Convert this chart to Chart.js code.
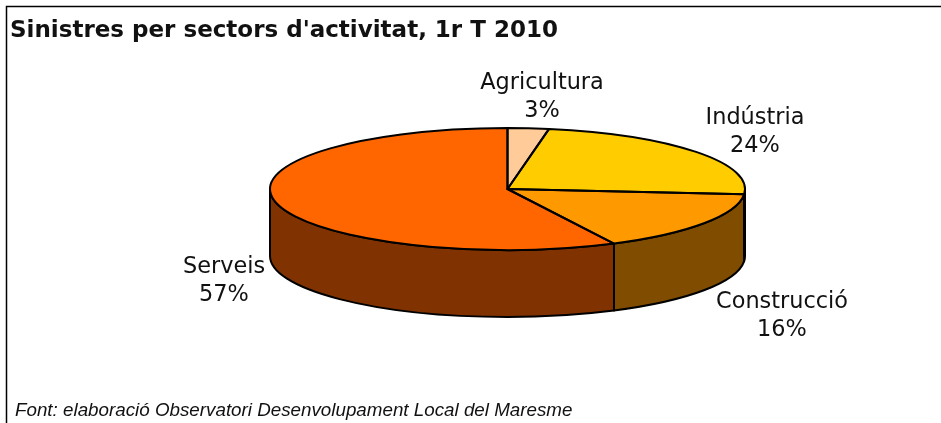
<!DOCTYPE html>
<html>
<head>
<meta charset="utf-8">
<title>Sinistres per sectors d'activitat</title>
<script src="https://cdn.jsdelivr.net/npm/chart.js@4"></script>
<style>
  html, body { margin: 0; padding: 0; background: #fff; overflow: hidden; }
  canvas { display: block; }
</style>
</head>
<body>
<canvas id="myChart" width="941" height="423"></canvas>
<script>
'use strict';

// data
let sectors = ['Agricultura', 'Indústria', 'Construcció', 'Serveis'];
let shares = [2.8, 23.6, 16.2, 57.4];
let topColors = ['#FFCC99', '#FFCC00', '#FF9900', '#FF6600'];
let wallColors = ['#806633', '#806600', '#804D00', '#803300'];
let titleText = "Sinistres per sectors d'activitat, 1r T 2010";
let sourceText = 'Font: elaboració Observatori Desenvolupament Local del Maresme';

// layout of the squashed pie
let centerX = 507.5;
let centerY = 189;
let radiusX = 237.5;
let radiusY = 61;
let wallHeight = 67;
// centre x and first baseline of each label, same order as sectors
let labelSpots = [[542, 89], [755, 124], [782, 308], [224, 273]];

function pieScale(arc) {
  return { sx: radiusX / arc.outerRadius, sy: radiusY / arc.outerRadius };
}

function drawWalls(chart) {
  let ctx = chart.ctx;
  let arcs = chart.getDatasetMeta(0).data;
  ctx.save();
  ctx.lineWidth = 2;
  ctx.strokeStyle = '#000';
  ctx.lineJoin = 'round';
  for (let i = 0; i < arcs.length; i++) {
    // only the front half of the pie shows a wall
    let from = Math.max(arcs[i].startAngle, 0);
    let to = Math.min(arcs[i].endAngle, Math.PI);
    if (to <= from) continue;
    ctx.beginPath();
    ctx.ellipse(centerX, centerY, radiusX, radiusY, 0, from, to);
    ctx.ellipse(centerX, centerY + wallHeight, radiusX, radiusY, 0, to, from, true);
    ctx.closePath();
    ctx.fillStyle = wallColors[i];
    ctx.fill();
    ctx.stroke();
  }
  // the right edge of the wall is heavier in the original
  ctx.lineWidth = 3;
  ctx.beginPath();
  ctx.moveTo(centerX + radiusX - 0.5, centerY + 3);
  ctx.lineTo(centerX + radiusX - 0.5, centerY + wallHeight);
  ctx.stroke();
  ctx.restore();
}

function drawOutlines(chart) {
  let ctx = chart.ctx;
  let arcs = chart.getDatasetMeta(0).data;
  ctx.save();
  ctx.lineWidth = 2;
  ctx.strokeStyle = '#000';
  ctx.lineJoin = 'round';
  for (let i = 0; i < arcs.length; i++) {
    ctx.beginPath();
    ctx.moveTo(centerX, centerY);
    ctx.ellipse(centerX, centerY, radiusX, radiusY, 0, arcs[i].startAngle, arcs[i].endAngle);
    ctx.closePath();
    ctx.stroke();
  }
  ctx.restore();
}

function drawTexts(chart) {
  let ctx = chart.ctx;
  ctx.save();
  ctx.fillStyle = '#111';
  ctx.textBaseline = 'alphabetic';

  ctx.textAlign = 'left';
  ctx.font = 'bold 23px "DejaVu Sans"';
  ctx.fillText(titleText, 10, 37);

  ctx.font = 'italic 18.8px "Liberation Sans"';
  ctx.fillText(sourceText, 15, 416);

  ctx.textAlign = 'center';
  ctx.font = '22.4px "DejaVu Sans"';
  for (let i = 0; i < sectors.length; i++) {
    ctx.fillText(sectors[i], labelSpots[i][0], labelSpots[i][1]);
    ctx.fillText(Math.round(shares[i]) + '%', labelSpots[i][0], labelSpots[i][1] + 28);
  }
  ctx.restore();
}

let pie3d = {
  id: 'pie3d',
  beforeDraw(chart) {
    let ctx = chart.ctx;
    ctx.save();
    ctx.fillStyle = '#fff';
    ctx.fillRect(0, 0, chart.width, chart.height);
    // frame is only visible on the left and top, it runs off the picture elsewhere
    ctx.strokeStyle = '#000';
    ctx.lineWidth = 1.5;
    ctx.beginPath();
    ctx.moveTo(6.5, chart.height);
    ctx.lineTo(6.5, 6.5);
    ctx.lineTo(chart.width, 6.5);
    ctx.stroke();
    ctx.restore();
  },
  beforeDatasetsDraw(chart) {
    drawWalls(chart);
    // squash the library's own arcs into the ellipse
    let arc = chart.getDatasetMeta(0).data[0];
    let s = pieScale(arc);
    let ctx = chart.ctx;
    ctx.save();
    ctx.translate(centerX, centerY);
    ctx.scale(s.sx, s.sy);
    ctx.translate(-arc.x, -arc.y);
  },
  afterDatasetsDraw(chart) {
    chart.ctx.restore();
    drawOutlines(chart);
    drawTexts(chart);
  }
};

let ctx = document.getElementById('myChart').getContext('2d');
let myChart = new Chart(ctx, {
  type: 'pie',
  data: {
    labels: sectors,
    datasets: [{
      data: shares,
      backgroundColor: topColors,
      borderWidth: 0
    }]
  },
  options: {
    responsive: false,
    animation: false,
    rotation: 0,
    plugins: {
      legend: { display: false },
      tooltip: { enabled: false }
    }
  },
  plugins: [pie3d]
});
</script>
</body>
</html>
